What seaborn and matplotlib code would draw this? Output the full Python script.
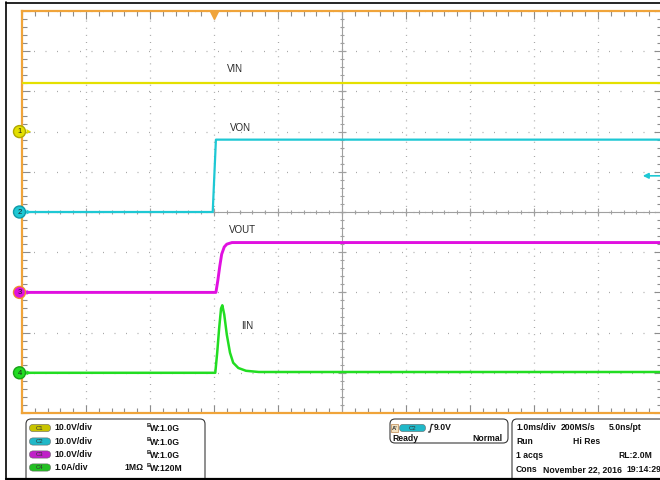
import numpy as np
import pandas as pd
import matplotlib
matplotlib.use("Agg")
import matplotlib.pyplot as plt
import seaborn as sns
from matplotlib.patches import FancyBboxPatch, Circle, Rectangle, Polygon

# ---------------- data (time in ms relative to trigger) ----------------
vin_t = [-3.0, 7.0]
vin_v = [12.0, 12.0]

von_t = [-3.0, -0.02, 0.03, 7.0]
von_v = [0.0, 0.0, 18.0, 18.0]

vout_t = [-3.0, 0.03, 0.06, 0.09, 0.12, 0.16, 0.20, 0.28, 7.0]
vout_v = [0.0, 0.0, 3.0, 6.5, 9.5, 11.3, 12.0, 12.4, 12.4]

iin_t = [-3.0, 0.02, 0.05, 0.08, 0.11, 0.13, 0.16, 0.20, 0.25, 0.30, 0.38, 0.50, 0.70, 7.0]
iin_a = [0.0, 0.0, 0.5, 1.1, 1.6, 1.68, 1.45, 0.95, 0.5, 0.25, 0.12, 0.05, 0.02, 0.02]

channels = ["VIN", "VON", "VOUT", "IIN"]
channel_scale = [10.0, 10.0, 10.0, 1.0]      # units / div
channel_ground = [2.0, 0.0, -2.0, -4.0]      # ground level in divisions
trigger_level = 9.0                          # V on C2

scale_labels = ["10.0V/div", "10.0V/div", "10.0V/div", "1.0A/div"]
bw_labels = ["W:1.0G", "W:1.0G", "W:1.0G", "W:120M"]
info_lines = ["1.0ms/div", "200MS/s", "5.0ns/pt", "Run", "Hi Res", "1 acqs",
              "RL:2.0M", "Cons", "November 22, 2016", "19:14:29"]

trace_colors = ["#e4e000", "#1ec8d4", "#e010e0", "#22dd22"]
badge_colors = ["#c8c400", "#20b8c8", "#c020c8", "#22c022"]
trace_widths = [1.6, 1.6, 2.1, 1.8]
orange = "#f0a43a"

series = [(vin_t, vin_v), (von_t, von_v), (vout_t, vout_v), (iin_t, iin_a)]
frames = []
for name, (t, v), sc, g in zip(channels, series, channel_scale, channel_ground):
    frames.append(pd.DataFrame({"t": t,
                                "div": g + np.asarray(v) / sc,
                                "channel": name}))
df = pd.concat(frames, ignore_index=True)

# ---------------- figure ----------------
sns.set_theme(style="white")
plt.rcParams["font.family"] = ["Liberation Sans", "DejaVu Sans"]

W, H = 660, 480
fig = plt.figure(figsize=(6.6, 4.8), dpi=100)
fig.patch.set_facecolor("white")

ax = fig.add_axes([22 / W, 1 - 413 / H, 640 / W, 402 / H])
ax.set_facecolor("white")
ax.set_xlim(-3, 7)
ax.set_ylim(-5, 5)

# grid (dotted) and ticks
ax.set_xticks(np.arange(-3, 7.01, 1))
ax.set_yticks(np.arange(-5, 5.01, 1))
ax.set_xticks(np.arange(-3, 7.01, 0.2), minor=True)
ax.set_yticks(np.arange(-5, 5.01, 0.2), minor=True)
ax.xaxis.grid(True, which="major", color="#a8a8a8", lw=0.9, linestyle=(0, (0.8, 4.9)))
ax.yaxis.grid(True, which="major", color="#a8a8a8", lw=0.9, linestyle=(0, (0.8, 8.4)))
ax.set_axisbelow(True)
ax.tick_params(which="both", direction="in", top=True, right=True, bottom=True, left=True,
               labelbottom=False, labelleft=False, color="#8c8c8c", width=0.8)
ax.tick_params(which="major", length=6)
ax.tick_params(which="minor", length=3.5)
for s in ax.spines.values():
    s.set_color(orange)
    s.set_linewidth(1.6)
    s.set_visible(True)

# center crosshair with ticks
ax.axhline(0, color="#a0a0a0", lw=0.8, zorder=1)
ax.axvline(2, color="#a0a0a0", lw=0.8, zorder=1)
mx = np.arange(-3, 7.01, 0.2)
my = np.arange(-5, 5.01, 0.2)
ax.plot(mx, np.zeros_like(mx), ls="", marker="|", ms=3.5, mew=0.8, color="#a0a0a0", zorder=1)
ax.plot(np.full_like(my, 2.0), my, ls="", marker="_", ms=3.5, mew=0.8, color="#a0a0a0", zorder=1)
ax.plot(np.arange(-3, 7.01, 1), np.zeros(11), ls="", marker="|", ms=6, mew=0.8, color="#a0a0a0", zorder=1)
ax.plot(np.full(11, 2.0), np.arange(-5, 5.01, 1), ls="", marker="_", ms=6, mew=0.8, color="#a0a0a0", zorder=1)

# traces
for name, col, lw in zip(channels, trace_colors, trace_widths):
    sns.lineplot(data=df[df["channel"] == name], x="t", y="div", color=col, lw=lw,
                 estimator=None, sort=False, legend=False, ax=ax, zorder=3)
ax.set_xlabel("")
ax.set_ylabel("")

# trigger position marker (top) and trigger level arrow (right)
ax.plot([0], [4.9], marker="v", ms=6, color=orange, clip_on=False, zorder=6, ls="")
lvl = channel_ground[1] + trigger_level / channel_scale[1]
ax.annotate("", xy=(6.7, lvl), xytext=(7.0, lvl), annotation_clip=False,
            arrowprops=dict(arrowstyle="-|>", color=trace_colors[1], lw=1.2,
                            mutation_scale=8, shrinkA=0, shrinkB=0))

# ---------------- overlay in pixel coordinates ----------------
ov = fig.add_axes([0, 0, 1, 1], zorder=10)
ov.set_xlim(0, W)
ov.set_ylim(H, 0)
ov.axis("off")

# channel ground markers on the left
gy = [212 - g * 40.2 for g in channel_ground]
edge_cols = ["#b0a800", "#109aa8", "#f08a30", "#18a018"]
for i, (y, col, ec) in enumerate(zip(gy, trace_colors, edge_cols)):
    ov.add_patch(Circle((19.5, y), 6, fc=col, ec=ec, lw=1.0, zorder=12))
    ov.text(19.5, y + 0.3, str(i + 1), fontsize=5.5, ha="center", va="center",
            color="#222222", zorder=13)
    ov.add_patch(Polygon([(26.5, y - 2.5), (26.5, y + 2.5), (31, y)], closed=True,
                         fc=col, ec="none", zorder=12))

# trace labels
label_pos = [(227, 69), (230, 128), (229, 230), (241, 326)]
for name, (x, y) in zip(channels, label_pos):
    ov.text(x, y, name, fontsize=7, ha="left", va="center", color="#2a2a2a")

# outer black frame
ov.plot([5.5, 5.5], [2, 479], color="black", lw=1.2)
ov.plot([5.5, 662], [2.5, 2.5], color="black", lw=1.2)
ov.plot([5.5, 662], [479, 479], color="black", lw=1.6)

# info boxes
box_kw = dict(boxstyle="round,pad=0,rounding_size=5", fc="white", ec="#3a3a3a", lw=0.8)
ov.add_patch(FancyBboxPatch((26, 419), 179, 68, **box_kw))
ov.add_patch(FancyBboxPatch((390, 419), 118, 24, **box_kw))
ov.add_patch(FancyBboxPatch((512, 419), 160, 68, **box_kw))

fs = 6.2
tk = dict(fontsize=fs, fontweight="bold", color="#111111", va="center", ha="left")
rows = [428, 441.5, 454.5, 467.5]
for i, (y, col) in enumerate(zip(rows, badge_colors)):
    ov.add_patch(FancyBboxPatch((29.5, y - 3.6), 21, 7.2,
                                boxstyle="round,pad=0,rounding_size=3.6",
                                fc=col, ec="#666666", lw=0.4))
    ov.text(40, y + 0.2, f"C{i + 1}", fontsize=4.3, ha="center", va="center", color="#333333")
    ov.text(54, y, scale_labels[i], **tk)
    ov.text(146.5, y - 2.2, "B", fontsize=4.2, fontweight="bold", color="#111111",
            ha="left", va="center")
    ov.text(149.5, y + 0.6, bw_labels[i], **tk)
ov.text(144, rows[3], "1M\u03a9", fontsize=fs, fontweight="bold", color="#111111",
        va="center", ha="right")

# trigger box
ov.add_patch(Rectangle((391, 424), 7, 8, fc="#f2e2c2", ec="#c08a50", lw=0.5))
ov.text(394.5, 428.2, "A'", fontsize=4.2, ha="center", va="center", color="#333333",
        fontweight="bold")
ov.add_patch(FancyBboxPatch((399.5, 424.4), 26, 7.2, boxstyle="round,pad=0,rounding_size=3.6",
                            fc=badge_colors[1], ec="#666666", lw=0.4))
ov.text(412.5, 428.2, "C2", fontsize=4.3, ha="center", va="center", color="#333333")
ov.plot([428.5, 430, 431.5, 433], [432, 432, 424.5, 424.5], color="#222222", lw=0.9)
ov.text(434, 428, "9.0V", **tk)
ov.text(392, 438.5, "Ready", **tk)
ov.text(472, 438.5, "Normal", **tk)

# timebase box
info_pos = [(516, 428), (561, 428), (609, 428), (516, 442), (573, 442), (516, 456),
            (618, 456), (516, 469.5), (543, 469.5), (626, 469.5)]
for txt, (x, y) in zip(info_lines, info_pos):
    ov.text(x, y, txt, **tk)

fig.savefig("out.png", dpi=100, facecolor="white")
